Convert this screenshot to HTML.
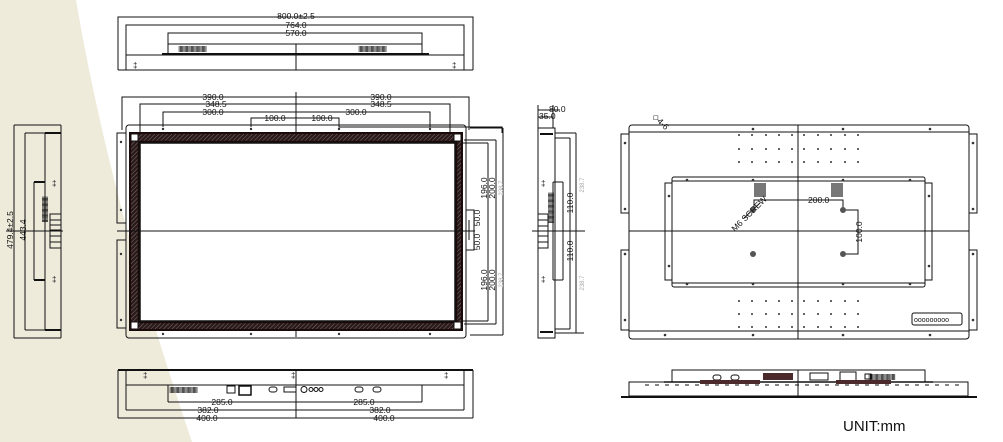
<!DOCTYPE html>
<html><head><meta charset="utf-8"><style>
html,body{margin:0;padding:0;background:#fff;width:1003px;height:442px;overflow:hidden}
svg{display:block}
text{font-family:"Liberation Sans",sans-serif;fill:#111}
</style></head><body>
<svg width="1003" height="442" viewBox="0 0 1003 442" xmlns="http://www.w3.org/2000/svg">
<defs>
<pattern id="h" width="3" height="3" patternUnits="userSpaceOnUse" patternTransform="rotate(45)">
<rect width="3" height="3" fill="#2a1a1a"/><line x1="0" y1="0" x2="0" y2="3" stroke="#857a7a" stroke-width="0.9"/>
</pattern>
</defs>
<path d="M0 0 L76 0 Q110 200 192 442 L0 442 Z" fill="#eeebdb"/>

<g stroke="#111" stroke-width="1" fill="none">
<polyline points="118,70 118,17 473,17 473,70"/>
<line x1="118" y1="70" x2="473" y2="70"/>
<polyline points="126,70 126,25 464,25 464,70"/>
<polyline points="168,55 168,33 422,33 422,55"/>
<line x1="168" y1="44" x2="422" y2="44"/>
<line x1="126" y1="55" x2="464" y2="55"/>
<line x1="162" y1="54" x2="429" y2="54" stroke-width="2"/>
<line x1="296" y1="44" x2="296" y2="70"/>

<polyline points="122,130 122,97 469,97 469,130"/>
<polyline points="140,135 140,104 450,104 450,135"/>
<polyline points="163,127 163,112 430,112 430,127"/>
<polyline points="251,127 251,118 339,118 339,127 502,127 502,133"/>
<line x1="296" y1="92" x2="296" y2="337"/>
<rect x="126" y="125" width="340" height="213" rx="3"/>
<path d="M126 133 H117 V223 H126 M126 240 H117 V328 H126"/>
<rect x="130" y="133" width="332" height="197" fill="url(#h)" stroke="#1a0a0a" stroke-width="2"/>
<rect x="139" y="142" width="317" height="180" fill="none" stroke="#1a0a0a" stroke-width="2.5"/>
<rect x="140" y="143" width="315" height="178" fill="#fff" stroke="#111" stroke-width="1.5"/>
<rect x="131" y="134" width="7" height="7" fill="#fff"/>
<rect x="454" y="134" width="7" height="7" fill="#fff"/>
<rect x="131" y="322" width="7" height="7" fill="#fff"/>
<rect x="454" y="322" width="7" height="7" fill="#fff"/>
<line x1="117" y1="231" x2="475" y2="231"/>
<path d="M462 143 H488 M462 321 H488 M488 143 V321"/>
<path d="M464 140 H496 M464 324 H496 M496 140 V324"/>
<path d="M470 128 H503 M470 335 H503 M503 128 V335"/>
<path d="M466 210 H474 V250 H466 M469 220 V240"/>

<path d="M14 125 V338 M14 125 H61 M14 338 H61 M61 125 V338"/>
<path d="M25 133 H61 M25 330 H61 M25 133 V330 M45 133 V330"/>
<path d="M45 133 H61 M45 330 H61" stroke-width="2"/>
<path d="M34 182 H45 M34 280 H45 M34 182 V280"/>
<path d="M34 182 H45 M34 280 H45" stroke-width="2"/>
<rect x="50" y="214" width="11" height="34"/>
<path d="M50 220 H61 M50 225 H61 M50 230 H61 M50 236 H61 M50 242 H61"/>
<line x1="6" y1="231" x2="63" y2="231"/>

<rect x="538" y="128" width="17" height="210"/>
<path d="M555 133 H576 M555 333 H584 M576 133 V333"/>
<path d="M555 138 H570 M555 329 H570 M570 138 V329"/>
<path d="M553 182 H563 M553 280 H563 M553 182 V280 M563 182 V280"/>
<path d="M538 105 V128 M553 105 V128 M538 110 H560 M538 117 H553"/>
<rect x="538" y="214" width="10" height="34"/>
<path d="M538 220 H548 M538 226 H548 M538 236 H548 M538 242 H548"/>
<line x1="532" y1="231" x2="585" y2="231"/>
<path d="M540 134 H553 M540 332 H553" stroke-width="2"/>

<rect x="629" y="125" width="340" height="214" rx="3"/>
<path d="M629 132 H969 M629 331 H969"/>
<path d="M629 134 H621 V213 H629 M629 250 H621 V330 H629"/>
<path d="M969 134 H977 V213 H969 M969 250 H977 V330 H969"/>
<line x1="798" y1="125" x2="798" y2="339"/>
<line x1="629" y1="231" x2="969" y2="231"/>
<rect x="672" y="177" width="253" height="110" rx="2"/>
<path d="M672 181 H925 M672 283 H925"/>
<path d="M672 183 H665 V280 H672 M925 183 H932 V280 H925"/>
<path d="M754 210 V200 H843 V210 M843 210 H858 V254 H843"/>
<line x1="744" y1="218" x2="760" y2="203"/>
<rect x="912" y="313" width="50" height="12" rx="2"/>

<line x1="118" y1="370" x2="473" y2="370" stroke-width="2"/>
<path d="M118 370 V418 M473 370 V418 M118 418 H473"/>
<path d="M126 370 V410 M464 370 V410 M126 410 H464"/>
<path d="M168 385 V402 M422 385 V402 M168 402 H422"/>
<line x1="126" y1="385" x2="464" y2="385"/>
<line x1="296" y1="370" x2="296" y2="418"/>
<rect x="227" y="386" width="8" height="7"/>
<rect x="239" y="386" width="12" height="9" stroke-width="1.5"/>
<rect x="269" y="387" width="8" height="5" rx="2.5"/>
<rect x="284" y="387" width="12" height="5"/>
<circle cx="304" cy="389.5" r="3"/><circle cx="311" cy="389.5" r="2"/><circle cx="316" cy="389.5" r="2"/><circle cx="321" cy="389.5" r="2"/>
<rect x="355" y="387" width="8" height="5" rx="2.5"/><rect x="373" y="387" width="8" height="5" rx="2.5"/>

<rect x="672" y="370" width="253" height="12"/>
<line x1="664" y1="382" x2="933" y2="382" stroke-width="1.5"/>
<rect x="629" y="382" width="339" height="14"/>
<line x1="621" y1="397" x2="977" y2="397" stroke-width="2"/>
<line x1="798" y1="370" x2="798" y2="397"/>
<line x1="645" y1="385" x2="960" y2="385" stroke-dasharray="4,6"/>
<rect x="713" y="375" width="8" height="5" rx="2.5"/><rect x="731" y="375" width="8" height="5" rx="2.5"/>
<rect x="763" y="373" width="30" height="7" fill="#4a2a2a" stroke="none"/>
<rect x="810" y="373" width="18" height="7"/>
<rect x="840" y="372" width="16" height="9"/>
<rect x="865" y="374" width="6" height="5"/>
<rect x="700" y="380" width="60" height="4" fill="#4a2a2a" stroke="none"/>
<rect x="836" y="380" width="55" height="4" fill="#4a2a2a" stroke="none"/>
</g>

<g fill="#333">
<g id="dr">
<circle cx="739" cy="135" r="1"/><circle cx="752" cy="135" r="1"/><circle cx="766" cy="135" r="1"/><circle cx="779" cy="135" r="1"/><circle cx="792" cy="135" r="1"/>
<circle cx="804" cy="135" r="1"/><circle cx="818" cy="135" r="1"/><circle cx="831" cy="135" r="1"/><circle cx="845" cy="135" r="1"/><circle cx="858" cy="135" r="1"/>
</g>
<use href="#dr" y="14"/><use href="#dr" y="27"/><use href="#dr" y="166"/><use href="#dr" y="179"/><use href="#dr" y="192"/>
<circle cx="753" cy="210" r="3" fill="#555"/><circle cx="843" cy="210" r="3" fill="#555"/>
<circle cx="753" cy="254" r="3" fill="#555"/><circle cx="843" cy="254" r="3" fill="#555"/>
<rect x="754" y="183" width="12" height="14" fill="#777"/><rect x="831" y="183" width="12" height="14" fill="#777"/>
<circle cx="687" cy="180" r="1.3"/><circle cx="753" cy="180" r="1.3"/><circle cx="843" cy="180" r="1.3"/><circle cx="910" cy="180" r="1.3"/>
<circle cx="687" cy="284" r="1.3"/><circle cx="753" cy="284" r="1.3"/><circle cx="843" cy="284" r="1.3"/><circle cx="910" cy="284" r="1.3"/>
<circle cx="669" cy="196" r="1.3"/><circle cx="669" cy="266" r="1.3"/><circle cx="929" cy="196" r="1.3"/><circle cx="929" cy="266" r="1.3"/>
<circle cx="625" cy="143" r="1.3"/><circle cx="625" cy="209" r="1.3"/><circle cx="625" cy="254" r="1.3"/><circle cx="625" cy="320" r="1.3"/>
<circle cx="973" cy="143" r="1.3"/><circle cx="973" cy="209" r="1.3"/><circle cx="973" cy="254" r="1.3"/><circle cx="973" cy="320" r="1.3"/>
<circle cx="753" cy="129" r="1.3"/><circle cx="843" cy="129" r="1.3"/><circle cx="930" cy="129" r="1.3"/>
<circle cx="665" cy="335" r="1.3"/><circle cx="753" cy="335" r="1.3"/><circle cx="843" cy="335" r="1.3"/><circle cx="930" cy="335" r="1.3"/>
<circle cx="163" cy="129" r="1.2"/><circle cx="251" cy="129" r="1.2"/><circle cx="339" cy="129" r="1.2"/><circle cx="430" cy="129" r="1.2"/>
<circle cx="163" cy="334" r="1.2"/><circle cx="251" cy="334" r="1.2"/><circle cx="339" cy="334" r="1.2"/><circle cx="430" cy="334" r="1.2"/>
<circle cx="121" cy="142" r="1.2"/><circle cx="121" cy="210" r="1.2"/><circle cx="121" cy="254" r="1.2"/><circle cx="121" cy="320" r="1.2"/>
</g>

<g font-size="8.5">
<text x="296" y="19" text-anchor="middle">800.0±2.5</text>
<text x="296" y="28" text-anchor="middle">764.0</text>
<text x="296" y="36" text-anchor="middle">570.0</text>
<text x="213" y="100" text-anchor="middle">390.0</text>
<text x="381" y="100" text-anchor="middle">390.0</text>
<text x="216" y="107" text-anchor="middle">348.5</text>
<text x="381" y="107" text-anchor="middle">348.5</text>
<text x="213" y="115" text-anchor="middle">300.0</text>
<text x="356" y="115" text-anchor="middle">300.0</text>
<text x="275" y="121" text-anchor="middle">100.0</text>
<text x="322" y="121" text-anchor="middle">100.0</text>
<text x="222" y="405" text-anchor="middle">285.0</text>
<text x="364" y="405" text-anchor="middle">285.0</text>
<text x="208" y="413" text-anchor="middle">382.0</text>
<text x="380" y="413" text-anchor="middle">382.0</text>
<text x="207" y="421" text-anchor="middle">400.0</text>
<text x="384" y="421" text-anchor="middle">400.0</text>
<text x="549" y="112">80.0</text>
<text x="539" y="119">35.0</text>
<text x="808" y="203">200.0</text>
<text transform="translate(13,230) rotate(-90)" text-anchor="middle">479.4±2.5</text>
<text transform="translate(26,230) rotate(-90)" text-anchor="middle">443.4</text>
<text transform="translate(487,188) rotate(-90)" text-anchor="middle">196.0</text>
<text transform="translate(495,188) rotate(-90)" text-anchor="middle">200.0</text>
<text transform="translate(487,280) rotate(-90)" text-anchor="middle">196.0</text>
<text transform="translate(495,280) rotate(-90)" text-anchor="middle">200.0</text>
<text transform="translate(480,218) rotate(-90)" text-anchor="middle">50.0</text>
<text transform="translate(480,242) rotate(-90)" text-anchor="middle">50.0</text>
<text transform="translate(573,203) rotate(-90)" text-anchor="middle">110.0</text>
<text transform="translate(573,251) rotate(-90)" text-anchor="middle">110.0</text>
<text transform="translate(862,232) rotate(-90)" text-anchor="middle">100.0</text>
<text transform="translate(735,232) rotate(-45)">M6 SCREW</text>
<text transform="translate(652,117) rotate(45)">◇4-6</text>
</g>
<g font-size="6">
<text transform="translate(503,188) rotate(-90)" text-anchor="middle" style="fill:#aaa">238.7</text>
<text transform="translate(503,280) rotate(-90)" text-anchor="middle" style="fill:#aaa">238.7</text>
<text transform="translate(584,185) rotate(-90)" text-anchor="middle" style="fill:#aaa">238.7</text>
<text transform="translate(584,283) rotate(-90)" text-anchor="middle" style="fill:#aaa">238.7</text>
</g>
<g font-size="8" style="letter-spacing:-1px">
<text x="178" y="52">IIIIIIIIIIIIIIIIIIIIIII</text>
<text x="358" y="52">IIIIIIIIIIIIIIIIIIIIIII</text>
<text x="169" y="393">IIIIIIIIIIIIIIIIIIIIIII</text>
<text x="868" y="380">IIIIIIIIIIIIIIIIIIIIII</text>
<text transform="translate(42,196) rotate(90)">IIIIIIIIIIIIIIIIIIIII</text>
<text transform="translate(548,192) rotate(90)">IIIIIIIIIIIIIIIIIIIIIIIII</text>
</g>
<g font-size="8">
<text x="133" y="68">‡</text><text x="452" y="68">‡</text>
<text x="143" y="378">‡</text><text x="291" y="378">‡</text><text x="444" y="378">‡</text>
<text x="52" y="186">‡</text><text x="52" y="282">‡</text>
<text x="541" y="186">‡</text><text x="541" y="282">‡</text>
<text x="914" y="322" font-size="7">ooooooooo</text>
</g>
<text x="843" y="431" font-size="15">UNIT:mm</text>
</svg>
</body></html>
